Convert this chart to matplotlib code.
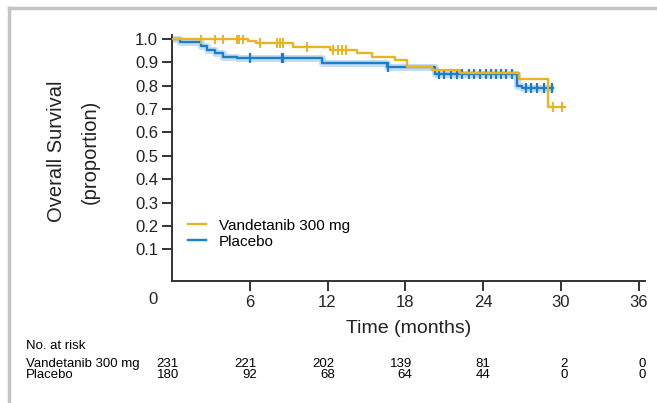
import matplotlib
matplotlib.use('Agg')
import matplotlib.pyplot as plt
from matplotlib.lines import Line2D

plt.rcParams['font.family'] = ['Liberation Sans', 'DejaVu Sans']

# Kaplan-Meier steps (months, proportion surviving)
vand_t = [0, 5.9, 6.5, 9.3, 12.2, 14.3, 15.4, 17.2, 18.1, 20.1, 22.2, 26.8, 29.0, 30.3]
vand_s = [1.0, 0.99, 0.98, 0.965, 0.95, 0.938, 0.924, 0.909, 0.88, 0.867, 0.853, 0.83, 0.71, 0.71]
vand_cens_t = [2.2, 3.3, 3.9, 5.0, 5.2, 5.5, 6.8, 8.1, 8.3, 8.6, 10.4, 12.4, 12.8, 13.1, 13.4, 29.4, 30.1]

plac_t = [0, 0.6, 2.2, 2.7, 3.3, 3.9, 5.0, 11.6, 16.6, 20.3, 26.6, 27.0, 29.4]
plac_s = [1.0, 0.988, 0.971, 0.952, 0.938, 0.924, 0.917, 0.897, 0.88, 0.85, 0.80, 0.79, 0.79]
plac_cens_t = [6.0, 8.5, 8.6, 16.7, 20.6, 21.0, 21.5, 22.0, 22.4, 22.9, 23.3, 23.8, 24.2, 24.6,
               25.0, 25.4, 25.8, 26.2, 27.3, 27.7, 28.2, 28.7, 29.3]

xticks = [6, 12, 18, 24, 30, 36]
yticks = [0.1, 0.2, 0.3, 0.4, 0.5, 0.6, 0.7, 0.8, 0.9, 1.0]

risk_groups = ['Vandetanib 300 mg', 'Placebo']
risk_times = [0, 6, 12, 18, 24, 30, 36]
risk_vand = ['231', '221', '202', '139', '81', '2', '0']
risk_plac = ['180', '92', '68', '64', '44', '0', '0']

gold = '#e8b424'
blue = '#1a7fc8'


def step_value(ts, ss, t):
    v = ss[0]
    for ti, si in zip(ts, ss):
        if ti <= t:
            v = si
    return v


fig = plt.figure(figsize=(6.57, 4.03), dpi=100)
ax = fig.add_axes([172/657, 1-281/403, (645-172)/657, (281-35)/403])

# light halo behind the placebo curve
ax.step(plac_t, plac_s, where='post', color='#c6dcf1', lw=5, solid_capstyle='butt', zorder=1)
ax.step(plac_t, plac_s, where='post', color=blue, lw=1.7, zorder=2, label='Placebo')
ax.step(vand_t, vand_s, where='post', color=gold, lw=1.7, zorder=3, label='Vandetanib 300 mg')

ax.plot(vand_cens_t, [step_value(vand_t, vand_s, t) for t in vand_cens_t], ls='none',
        marker='|', ms=7, mew=1.4, color=gold, zorder=3)
ax.plot(plac_cens_t, [step_value(plac_t, plac_s, t) for t in plac_cens_t], ls='none',
        marker='|', ms=7, mew=1.6, color=blue, zorder=2)

ax.set_xlim(0, 36.5)
ax.set_ylim(-0.035, 1.016)
ax.set_xticks(xticks)
ax.set_yticks(yticks)
ax.set_yticklabels([f'{v:.1f}' for v in yticks])
for s in ['top', 'right']:
    ax.spines[s].set_visible(False)
for s in ['left', 'bottom']:
    ax.spines[s].set_color('#333333')
    ax.spines[s].set_linewidth(1.4)
ax.tick_params(direction='out', length=7, width=1.4, color='#333333', labelsize=12,
               labelcolor='#222222', pad=3)

handles, labels = ax.get_legend_handles_labels()
ax.legend(handles[::-1], labels[::-1], loc='lower left', bbox_to_anchor=(0.005, 0.075),
          frameon=False, fontsize=11, handlelength=1.2, handletextpad=0.8,
          labelspacing=0.15)

ax.set_xlabel('Time (months)', fontsize=14, labelpad=7, color='#222222')
fig.text(153/657, 1-300/403, '0', fontsize=12, ha='center', va='center', color='#222222')
fig.text(57/657, 1-151/403, 'Overall Survival', rotation=90, fontsize=14.5,
         ha='center', va='center', color='#222222')
fig.text(90/657, 1-152/403, '(proportion)', rotation=90, fontsize=14.5,
         ha='center', va='center', color='#222222')

# numbers at risk table
fig.text(26/657, 1-346/403, 'No. at risk', fontsize=9.5, ha='left', va='center')
for row, (grp, vals) in enumerate(zip(risk_groups, [risk_vand, risk_plac])):
    yy = 1 - (364 + row*11.5)/403
    fig.text(26/657, yy, grp, fontsize=9.5, ha='left', va='center')
    for t, v in zip(risk_times, vals):
        xp = 172 + t*12.97 + 7
        fig.text(xp/657, yy, v, fontsize=9.5, ha='right', va='center')

# grey frame around the figure
fig.add_artist(Line2D([9/657, 1.0], [1-8/403, 1-8/403], transform=fig.transFigure,
                      color='#c4c4c4', lw=2.5))
fig.add_artist(Line2D([9/657, 9/657], [1-8/403, 0.0], transform=fig.transFigure,
                      color='#c4c4c4', lw=2.5))

fig.savefig('out.png', dpi=100)
